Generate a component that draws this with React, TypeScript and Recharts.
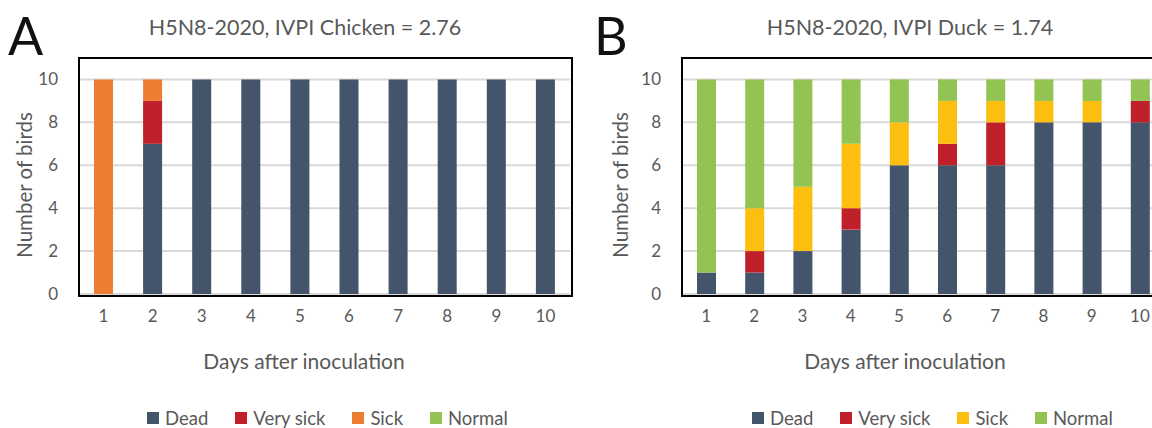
import { Bar, BarChart, CartesianGrid, XAxis, YAxis } from "recharts";

const days = ["1", "2", "3", "4", "5", "6", "7", "8", "9", "10"];

// Chicken (panel A)
const chickenDead = [0, 7, 10, 10, 10, 10, 10, 10, 10, 10];
const chickenVerySick = [0, 2, 0, 0, 0, 0, 0, 0, 0, 0];
const chickenSick = [10, 1, 0, 0, 0, 0, 0, 0, 0, 0];
const chickenNormal = [0, 0, 0, 0, 0, 0, 0, 0, 0, 0];

// Duck (panel B)
const duckDead = [1, 1, 2, 3, 6, 6, 6, 8, 8, 8];
const duckVerySick = [0, 1, 0, 1, 0, 1, 2, 0, 0, 1];
const duckSick = [0, 2, 3, 3, 2, 2, 1, 1, 1, 0];
const duckNormal = [9, 6, 5, 3, 2, 1, 1, 1, 1, 1];

const yTicks = [0, 2, 4, 6, 8, 10];
const seriesNames = ["Dead", "Very sick", "Sick", "Normal"];

const FONT = "Lato, 'Open Sans', sans-serif";
const TEXT = "#595959";

const build = (d: number[], vs: number[], s: number[], n: number[]) =>
  days.map((day, i) => ({ day, dead: d[i], verySick: vs[i], sick: s[i], normal: n[i] }));

const chickenData = build(chickenDead, chickenVerySick, chickenSick, chickenNormal);
const duckData = build(duckDead, duckVerySick, duckSick, duckNormal);

type PanelProps = {
  left: number;
  width: number;
  plotLeft: number; // relative to panel
  plotWidth: number;
  data: any[];
  colors: string[];
};

function Panel({ left, width, plotLeft, plotWidth, data, colors }: PanelProps) {
  return (
    <div style={{ position: "absolute", left, top: 0, width, height: 428 }}>
      <BarChart
        width={width}
        height={428}
        data={data}
        margin={{ top: 58, left: plotLeft - 40, right: width - plotLeft - plotWidth, bottom: 0 }}
      >
        <CartesianGrid vertical={false} stroke="#d9d9d9" strokeWidth={2} />
        <XAxis
          dataKey="day"
          axisLine={false}
          tickLine={false}
          tickSize={0}
          tickMargin={16}
          height={134}
          interval={0}
          tick={{ fill: TEXT, fontSize: 17, fontFamily: FONT }}
        />
        <YAxis
          domain={[0, 11]}
          ticks={yTicks}
          axisLine={false}
          tickLine={false}
          tickSize={0}
          tickMargin={21}
          width={40}
          tick={{ fill: TEXT, fontSize: 17, fontFamily: FONT }}
        />
        <Bar dataKey="dead" stackId="a" fill={colors[0]} barSize={19} isAnimationActive={false} />
        <Bar dataKey="verySick" stackId="a" fill={colors[1]} barSize={19} isAnimationActive={false} />
        <Bar dataKey="sick" stackId="a" fill={colors[2]} barSize={19} isAnimationActive={false} />
        <Bar dataKey="normal" stackId="a" fill={colors[3]} barSize={19} isAnimationActive={false} />
      </BarChart>
      <div
        style={{
          position: "absolute",
          left: plotLeft - 1,
          top: 57,
          width: plotWidth,
          height: 236,
          border: "2px solid #000",
          pointerEvents: "none",
        }}
      />
    </div>
  );
}

function Legend({ left, colors }: { left: number; colors: string[] }) {
  return (
    <div
      style={{
        position: "absolute",
        left,
        top: 407,
        display: "flex",
        fontFamily: FONT,
        fontSize: 18.5,
        color: TEXT,
        whiteSpace: "nowrap",
      }}
    >
      {seriesNames.map((name, i) => (
        <div key={name} style={{ display: "flex", alignItems: "center", marginLeft: i === 0 ? 0 : 27 }}>
          <span style={{ width: 12, height: 12, background: colors[i], marginRight: 6, display: "inline-block" }} />
          <span>{name}</span>
        </div>
      ))}
    </div>
  );
}

const label = (text: string, style: React.CSSProperties) => (
  <div
    style={{
      position: "absolute",
      fontFamily: FONT,
      color: TEXT,
      whiteSpace: "nowrap",
      ...style,
    }}
  >
    {text}
  </div>
);

export default function App() {
  const colorsA = ["#44546a", "#c0202a", "#ed7d31", "#92c353"];
  const colorsB = ["#44546a", "#c0202a", "#fcbf10", "#92c353"];
  return (
    <div
      style={{
        position: "absolute",
        left: 0,
        top: 0,
        width: 1152,
        height: 428,
        overflow: "hidden",
        background: "#fff",
      }}
    >
      <Panel left={0} width={576} plotLeft={79} plotWidth={491} data={chickenData} colors={colorsA} />
      <Panel left={576} width={600} plotLeft={106} plotWidth={482} data={duckData} colors={colorsB} />

      {label("A", { left: 8, top: 4, fontSize: 52, color: "#111" })}
      {label("B", { left: 594, top: 4, fontSize: 52, color: "#111" })}

      {label("H5N8-2020, IVPI Chicken = 2.76", { left: 305, top: 14, fontSize: 21.5, transform: "translateX(-50%)" })}
      {label("H5N8-2020, IVPI Duck = 1.74", { left: 910, top: 14, fontSize: 21.5, transform: "translateX(-50%)" })}

      {label("Number of birds", { left: 24, top: 185, fontSize: 20.5, transform: "translate(-50%, -50%) rotate(-90deg)" })}
      {label("Number of birds", { left: 620, top: 185, fontSize: 20.5, transform: "translate(-50%, -50%) rotate(-90deg)" })}

      {label("Days after inoculation", { left: 304, top: 348, fontSize: 21, transform: "translateX(-50%)" })}
      {label("Days after inoculation", { left: 905, top: 348, fontSize: 21, transform: "translateX(-50%)" })}

      <Legend left={147} colors={colorsA} />
      <Legend left={752} colors={colorsB} />
    </div>
  );
}
